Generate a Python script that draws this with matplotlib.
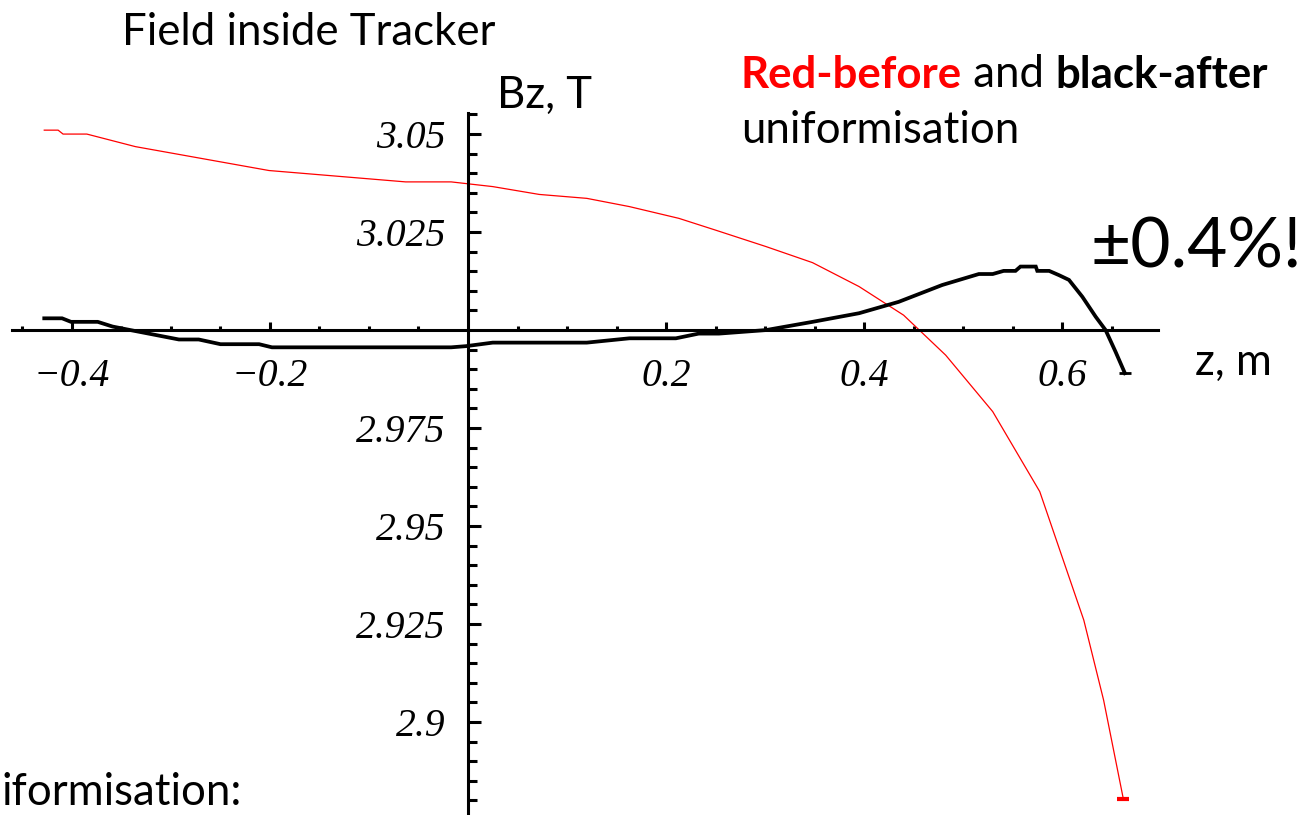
import matplotlib
matplotlib.use('Agg')
from matplotlib import pyplot as plt
from matplotlib.ticker import FixedLocator, FuncFormatter

# field profile along z
z_before = [-0.428, -0.414, -0.409, -0.385, -0.336, -0.201, -0.063, -0.017, 0.025, 0.072,
            0.12, 0.163, 0.213, 0.25, 0.301, 0.348, 0.395, 0.44, 0.4825, 0.53,
            0.5775, 0.622, 0.642, 0.662]
b_before = [3.051, 3.051, 3.050, 3.050, 3.0468, 3.0407, 3.0378, 3.0378, 3.0366, 3.0346,
            3.0336, 3.0315, 3.0285, 3.0255, 3.0213, 3.0172, 3.0111, 3.0038, 2.9936, 2.9792,
            2.9588, 2.926, 2.9056, 2.8803]

z_after = [-0.428, -0.41, -0.401, -0.374, -0.359, -0.341, -0.292, -0.272, -0.25, -0.211,
           -0.198, -0.017, -0.002, 0.025, 0.12, 0.163, 0.21, 0.233, 0.2535, 0.301,
           0.348, 0.395, 0.435, 0.479, 0.516, 0.53, 0.541, 0.553, 0.558, 0.5735,
           0.575, 0.587, 0.597, 0.607, 0.6205, 0.634, 0.644, 0.654, 0.6635]
b_after = [3.003, 3.003, 3.0021, 3.0021, 3.0009, 3.0, 2.9976, 2.9976, 2.9964, 2.9964,
           2.9956, 2.9956, 2.9959, 2.9968, 2.9968, 2.9979, 2.9979, 2.9991, 2.9991, 3.0,
           3.0021, 3.0043, 3.0072, 3.0115, 3.0143, 3.0143, 3.0151, 3.0151, 3.0162, 3.0162,
           3.0151, 3.0151, 3.014, 3.0128, 3.0085, 3.0034, 3.0, 2.9945, 2.989]

x_major = [-0.4, -0.2, 0.2, 0.4, 0.6]
x_minor = [-0.45, -0.35, -0.3, -0.25, -0.15, -0.1, -0.05, 0.05, 0.1, 0.15,
           0.25, 0.3, 0.35, 0.45, 0.5, 0.55, 0.65]
y_major = [2.9, 2.925, 2.95, 2.975, 3.025, 3.05]
y_minor = [2.88, 2.885, 2.89, 2.895, 2.905, 2.91, 2.915, 2.92, 2.93, 2.935, 2.94, 2.945,
           2.955, 2.96, 2.965, 2.97, 2.98, 2.985, 2.99, 2.995, 3.005, 3.01, 3.015, 3.02,
           3.03, 3.035, 3.04, 3.045, 3.055]

W, H = 1314, 815


def px(x, y):
    return x / W, 1 - y / H


def main():
    text_font = ['Lato', 'DejaVu Sans']
    tick_font = 'Liberation Serif'

    fig = plt.figure(figsize=(13.14, 8.15), dpi=100)
    ax = fig.add_axes([0, 0, 1, 1])
    ax.patch.set_alpha(0)

    ax.set_xlim(-0.4727, 0.8545)
    ax.set_ylim(2.8763, 3.0842)

    ax.plot(z_before, b_before, color='red', lw=0.9, solid_joinstyle='miter')
    ax.plot(z_before[-1:], b_before[-1:], color='red', marker='_', ms=9, mew=3)
    ax.plot(z_after, b_after, color='black', lw=2.7, solid_joinstyle='miter')
    ax.plot(z_after[-1:], b_after[-1:], color='black', marker='_', ms=9, mew=2)

    for s in ['top', 'right']:
        ax.spines[s].set_visible(False)
    ax.spines['left'].set_position(('data', 0))
    ax.spines['bottom'].set_position(('data', 3.0))
    ax.spines['left'].set_bounds(2.87, 3.0555)
    ax.spines['bottom'].set_bounds(-0.461, 0.697)
    ax.spines['left'].set_linewidth(2.2)
    ax.spines['bottom'].set_linewidth(2.2)

    ax.xaxis.set_major_locator(FixedLocator(x_major))
    ax.xaxis.set_minor_locator(FixedLocator(x_minor))
    ax.yaxis.set_major_locator(FixedLocator(y_major))
    ax.yaxis.set_minor_locator(FixedLocator(y_minor))
    ax.xaxis.set_major_formatter(FuncFormatter(lambda v, p: f'{v:g}'.replace('-', '\u2212')))
    ax.yaxis.set_major_formatter(FuncFormatter(lambda v, p: f'{v:g}'))

    ax.tick_params(axis='x', which='major', direction='in', length=6, width=2.2, pad=20)
    ax.tick_params(axis='x', which='minor', direction='in', length=3, width=2.2)
    ax.tick_params(axis='y', which='major', direction='in', length=9, width=2.2, pad=16)
    ax.tick_params(axis='y', which='minor', direction='in', length=6.5, width=2.2)
    for lab in ax.get_xticklabels() + ax.get_yticklabels():
        lab.set_fontfamily(tick_font)
        lab.set_fontstyle('italic')
        lab.set_fontsize(28.5)

    fs = 31.5
    fig.text(*px(122, 45), 'Field inside Tracker', family=text_font, fontsize=fs, va='baseline')
    fig.text(*px(497, 108), 'Bz, T', family=text_font, fontsize=fs, va='baseline')
    fig.text(*px(1195, 375), 'z, m', family=text_font, fontsize=fs, va='baseline')

    t1 = fig.text(*px(741, 88), 'Red-before', family=text_font, fontsize=fs,
                  weight='bold', color='red', va='baseline')
    t2 = ax.annotate(' and ', xy=(1, 0), xycoords=t1, va='bottom', family=text_font,
                     fontsize=fs)
    ax.annotate('black-after', xy=(1, 0), xycoords=t2, va='bottom', family=text_font,
                fontsize=fs, weight='bold')
    fig.text(*px(741, 143), 'uniformisation', family=text_font, fontsize=fs, va='baseline')

    fig.text(*px(1090, 268), '\u00b10.4%!', family=text_font, fontsize=50, va='baseline')
    fig.text(*px(2, 813), 'iformisation:', family=text_font, fontsize=fs, va='bottom')

    fig.savefig('out.png', dpi=100)


if __name__ == '__main__':
    main()
